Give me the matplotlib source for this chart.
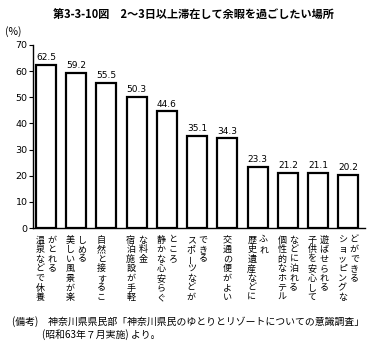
import matplotlib
matplotlib.use("Agg")
import matplotlib.pyplot as plt
import matplotlib.transforms as mtransforms

plt.rcParams['font.family'] = ['Noto Sans CJK JP', 'DejaVu Sans']

values = [62.5, 59.2, 55.5, 50.3, 44.6, 35.1, 34.3, 23.3, 21.2, 21.1, 20.2]
# each label: list of vertical columns, left to right
labels = [
    ["温泉などで休養", "がとれる"],
    ["美しい風景が楽", "しめる"],
    ["自然と接するこ"],
    ["宿泊施設が手軽", "な料金"],
    ["静かな心安らぐ", "ところ"],
    ["スポーツなどが", "できる"],
    ["交通の便がよい"],
    ["歴史遺産などに", "ふれ"],
    ["個性的なホテル", "などに泊れる"],
    ["子供を安心して", "遊ばせられる"],
    ["ショッピングな", "どができる"],
]
yticks = [0, 10, 20, 30, 40, 50, 60, 70]

W, H = 373, 348
fig = plt.figure(figsize=(W / 100, H / 100), dpi=100)
ax = fig.add_axes([33 / W, (H - 228) / H, (365 - 33) / W, (228 - 45) / H])

x = list(range(len(values)))
ax.bar(x, values, width=0.66, color='white', edgecolor='black', linewidth=1.6)
ax.set_xlim(-0.43, 10.55)
ax.set_ylim(0, 70)
ax.set_yticks(yticks)
ax.set_yticklabels([str(t) for t in yticks], fontsize=6.8, family='DejaVu Sans')
ax.set_xticks([])
for s in ['top', 'right']:
    ax.spines[s].set_visible(False)
ax.spines['left'].set_linewidth(1.0)
ax.spines['bottom'].set_linewidth(1.0)
ax.tick_params(axis='y', direction='out', length=3, width=0.8, pad=1)

for xi, v in zip(x, values):
    ax.annotate(f"{v:.1f}", (xi, v), xytext=(0, 2), textcoords='offset points',
                ha='center', va='bottom', fontsize=6.5, family='DejaVu Sans')

# vertical Japanese category labels
pitch = 9.6  # px
top_px = 240
col_off = 12  # px between columns
for xi, cols in zip(x, labels):
    n = len(cols)
    for ci, col in enumerate(cols):
        if n == 1:
            dx = -5 if xi == 2 else 0
        else:
            dx = -6 + ci * col_off
        for k, ch in enumerate(col):
            ypx = top_px + k * pitch
            trans = mtransforms.blended_transform_factory(ax.transData, fig.transFigure)
            trans = trans + mtransforms.ScaledTranslation(dx / 100, 0, fig.dpi_scale_trans)
            rot = 90 if ch == 'ー' else 0
            ax.text(xi, (H - ypx) / H, ch, transform=trans, ha='center', va='center',
                    fontsize=6.5, rotation=rot, clip_on=False)

fig.text(0.5 * (53 + 333) / W, (H - 15) / H,
         "第3-3-10図　2～3日以上滞在して余暇を過ごしたい場所",
         ha='center', va='center', fontsize=8, fontweight='bold')
fig.text(5 / W, (H - 32) / H, "(%)", ha='left', va='center', fontsize=7.5)
fig.text(12 / W, (H - 322) / H,
         "(備考)　神奈川県県民部「神奈川県民のゆとりとリゾートについての意識調査」",
         ha='left', va='center', fontsize=7.1)
fig.text(42 / W, (H - 335) / H, "(昭和63年７月実施) より。",
         ha='left', va='center', fontsize=7.1)

fig.savefig("out.png", dpi=100)
